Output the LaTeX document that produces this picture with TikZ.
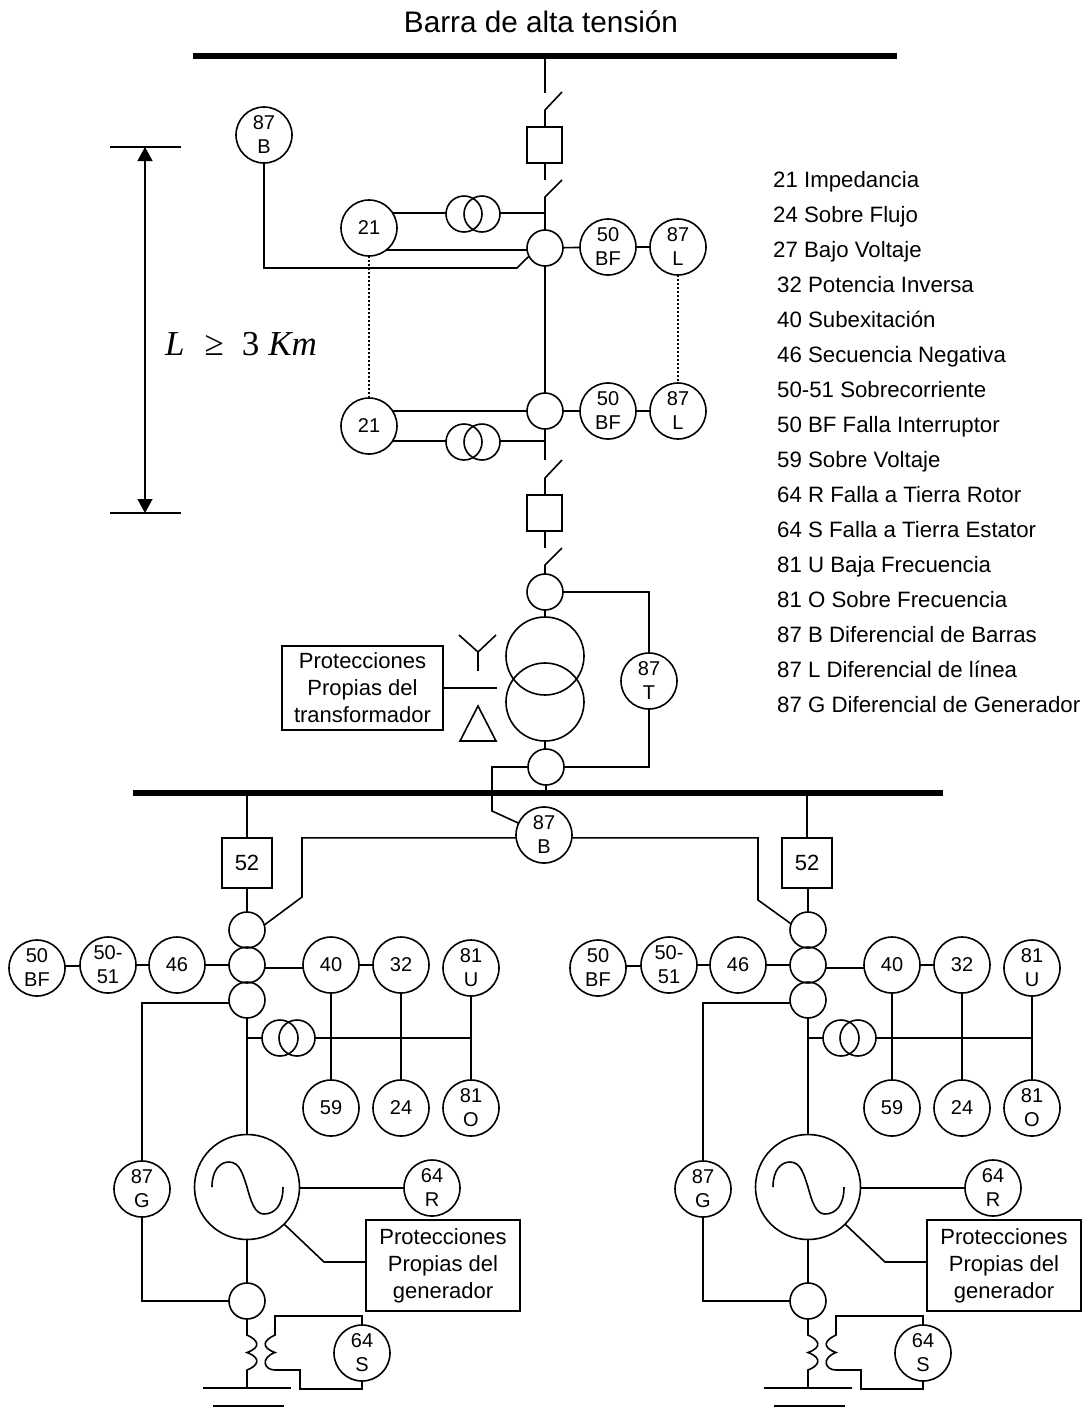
\documentclass[tikz,border=0pt]{standalone}
\usepackage{fontspec}
\setmainfont{Liberation Sans}
\newfontfamily\serifit{Liberation Serif}
\usetikzlibrary{arrows.meta}
\tikzset{
	wire/.style={line width=1.6pt,line join=miter},
	bus/.style={line width=5.5pt},
	relay/.style={circle,draw,line width=1.6pt,outer sep=0pt,minimum size=56pt,inner sep=0pt,align=center,font=\fontsize{20}{24}\selectfont},
	ctcoil/.style={circle,draw,line width=1.6pt,outer sep=0pt,minimum size=36pt,inner sep=0pt},
	vtcoil/.style={circle,draw,line width=1.6pt,outer sep=0pt,minimum size=36pt,inner sep=0pt},
	gencoil/.style={circle,draw,line width=1.6pt,outer sep=0pt,minimum size=78pt,inner sep=0pt},
	machine/.style={circle,draw,line width=1.6pt,outer sep=0pt,minimum size=105pt,inner sep=0pt},
	breaker/.style={rectangle,draw,line width=1.6pt,outer sep=0pt,minimum width=35pt,minimum height=36pt,inner sep=0pt},
	numbox/.style={rectangle,draw,line width=1.6pt,outer sep=0pt,minimum width=50pt,minimum height=50pt,inner sep=0pt,font=\fontsize{22}{24}\selectfont},
	textbox/.style={rectangle,draw,line width=1.6pt,outer sep=0pt,inner sep=0pt,align=center,font=\fontsize{22}{27}\selectfont},
	legend/.style={anchor=base west,inner sep=0pt,font=\fontsize{22.25}{26}\selectfont},
}
\begin{document}
\begin{tikzpicture}[x=1pt,y=-1pt]
	\useasboundingbox (0,0) rectangle (1087,1422);

	\coordinate (BarTa) at (193,56);
	\coordinate (BarTb) at (897,56);
	\coordinate (BarTj) at (545,56);
	\coordinate (BarMa) at (133,793);
	\coordinate (BarMb) at (943,793);
	\coordinate (SwAa) at (545,93);
	\coordinate (SwAb) at (545,110);
	\coordinate (SwAc) at (562,92);
	\coordinate (SwBa) at (545,180);
	\coordinate (SwBb) at (545,197);
	\coordinate (SwBc) at (562,180);
	\coordinate (SwCa) at (545,460);
	\coordinate (SwCb) at (545,478);
	\coordinate (SwCc) at (562,460);
	\coordinate (SwDa) at (545,548);
	\coordinate (SwDb) at (545,565);
	\coordinate (SwDc) at (562,548);
	\coordinate (JnA) at (545,213);
	\coordinate (JnB) at (545,441);
	\coordinate (BendB) at (517,268);
	\coordinate (BendM) at (492,811);
	\coordinate (DimA) at (110,147);
	\coordinate (DimB) at (181,147);
	\coordinate (DimC) at (110,513);
	\coordinate (DimD) at (181,513);
	\coordinate (DimE) at (145,147);
	\coordinate (DimF) at (145,513);
	\coordinate (StarA) at (459,635);
	\coordinate (StarB) at (496,635);
	\coordinate (StarC) at (478,652);
	\coordinate (StarD) at (478,671);
	\coordinate (DeltaA) at (478,706);
	\coordinate (DeltaB) at (460,741);
	\coordinate (DeltaC) at (496,741);
	\coordinate (TrEnd) at (497,688);

	\node[anchor=base] (title) at (541,32) {\fontsize{29.7}{32}\selectfont Barra de alta tensión};
	\node[anchor=base,inner sep=0pt] (length) at (241,355) {\fontsize{35}{38}\selectfont\serifit\textit{L}\hspace{20pt}≥\hspace{18pt}3\hspace{9pt}\textit{Km}};

	\node[legend] (Le21) at (773,187) {21 Impedancia};
	\node[legend] (Le24) at (773,222) {24 Sobre Flujo};
	\node[legend] (Le27) at (773,257) {27 Bajo Voltaje};
	\node[legend] (Le32) at (777,292) {32 Potencia Inversa};
	\node[legend] (Le40) at (777,327) {40 Subexitación};
	\node[legend] (Le46) at (777,362) {46 Secuencia Negativa};
	\node[legend] (Le50) at (777,397) {50-51 Sobrecorriente};
	\node[legend] (LeBF) at (777,432) {50 BF Falla Interruptor};
	\node[legend] (Le59) at (777,467) {59 Sobre Voltaje};
	\node[legend] (LeR) at (777,502) {64 R Falla a Tierra Rotor};
	\node[legend] (LeS) at (777,537) {64 S Falla a Tierra Estator};
	\node[legend] (LeU) at (777,572) {81 U Baja Frecuencia};
	\node[legend] (LeO) at (777,607) {81 O Sobre Frecuencia};
	\node[legend] (LeB) at (777,642) {87 B Diferencial de Barras};
	\node[legend] (LeL) at (777,677) {87 L Diferencial de línea};
	\node[legend] (LeG) at (777,712) {87 G Diferencial de Generador};

	\node[relay] (BarB) at (264,135) {87\\B};
	\node[breaker] (BrkA) at (544.5,145) {};
	\node[breaker] (BrkB) at (544.5,513) {};
	\node[relay] (DisA) at (369,228) {21};
	\node[relay] (DisB) at (369,426) {21};
	\node[vtcoil] (VtAa) at (464,214) {};
	\node[vtcoil] (VtAb) at (482,214) {};
	\node[vtcoil] (VtBa) at (464,442) {};
	\node[vtcoil] (VtBb) at (482,442) {};
	\node[ctcoil] (CtA) at (545,248) {};
	\node[ctcoil] (CtB) at (545,411) {};
	\node[ctcoil] (CtC) at (545,592) {};
	\node[ctcoil] (CtD) at (546,767) {};
	\node[relay] (FalA) at (608,247) {50\\BF};
	\node[relay] (FalB) at (608,411) {50\\BF};
	\node[relay] (DifA) at (678,247) {87\\L};
	\node[relay] (DifB) at (678,411) {87\\L};
	\node[gencoil] (TrA) at (545,656) {};
	\node[gencoil] (TrB) at (545,702) {};
	\node[relay] (DifT) at (649,681) {87\\T};
	\node[relay] (BarM) at (544,835) {87\\B};
	\node[textbox,minimum width=161pt,minimum height=84pt] (ProtT) at (362.5,688) {Protecciones\\Propias del\\transformador};

	\draw[bus] (BarTa) -- (BarTb);
	\draw[bus] (BarMa) -- (BarMb);

	\draw[wire] (BarTj) -- (SwAa);
	\draw[wire] (SwAc) -- (SwAb) -- (SwAb |- BrkA.north);
	\draw[wire] (SwBa |- BrkA.south) -- (SwBa);
	\draw[wire] (SwBc) -- (SwBb) -- (CtA.north);
	\draw[wire] (CtA.south) -- (CtB.north);
	\draw[wire] (CtB.south) -- (SwCa);
	\draw[wire] (SwCc) -- (SwCb) -- (SwCb |- BrkB.north);
	\draw[wire] (SwDa |- BrkB.south) -- (SwDa);
	\draw[wire] (SwDc) -- (SwDb) -- (CtC.north);
	\draw[wire] (CtC) -- (TrA);
	\draw[wire] (TrB.south) -- (CtD.north -| TrB.south);
	\draw[wire] (CtD.south) -- (CtD.south |- BarMa);

	\draw[wire] (DisA.32) -- (DisA.32 -| VtAa.west);
	\draw[wire] (VtAb.east |- JnA) -- (JnA);
	\draw[wire] (DisA.-52) -- (DisA.-52 -| CtA.west);
	\draw[wire] (DisB.32) -- (DisB.32 -| CtB.west);
	\draw[wire] (DisB.-32) -- (DisB.-32 -| VtBa.west);
	\draw[wire] (VtBb.east |- JnB) -- (JnB);
	\draw[wire] (BarB.south) |- (BendB) -- (CtA.207);
	\draw[wire] (CtA) -- (FalA);
	\draw[wire] (FalA) -- (DifA);
	\draw[wire] (CtB) -- (FalB);
	\draw[wire] (FalB) -- (DifB);
	\draw[wire,line width=1.2pt,dash pattern=on 2pt off 2pt] (DisA) -- (DisB);
	\draw[wire,line width=1.2pt,dash pattern=on 2pt off 2pt] (DifA) -- (DifB);

	\draw[wire] (CtC.east) -| (DifT.north);
	\draw[wire] (CtD.east) -| (DifT.south);
	\draw[wire] (CtD.west) -| (BendM) -- (BarM.155);
	\draw[wire] (ProtT.east) -- (TrEnd);
	\draw[wire] (StarA) -- (StarC) -- (StarB);
	\draw[wire] (StarC) -- (StarD);
	\draw[wire] (DeltaA) -- (DeltaB) -- (DeltaC) -- cycle;

	\draw[wire] (DimA) -- (DimB);
	\draw[wire] (DimC) -- (DimD);
	\draw[wire,{Stealth[length=14pt,width=15pt,inset=0pt]}-{Stealth[length=14pt,width=15pt,inset=0pt]}] (DimE) -- (DimF);

	% left generator
	\coordinate (LBusJ) at (247,793);
	\coordinate (LTie) at (302,897);
	\coordinate (LVtJ) at (247,1038);
	\coordinate (LVtR) at (471,1038);
	\coordinate (LBendP) at (324,1262);
	\coordinate (LCoilA) at (247,1335);
	\coordinate (LCoilB) at (247,1352.5);
	\coordinate (LCoilC) at (247,1370);
	\coordinate (LCoilD) at (275,1335);
	\coordinate (LCoilE) at (275,1352.5);
	\coordinate (LCoilF) at (275,1370);
	\coordinate (LLoopA) at (275,1316);
	\coordinate (LLoopB) at (300,1370);
	\coordinate (LLoopC) at (300,1389);
	\coordinate (LGndJ) at (247,1388);
	\coordinate (LGndA) at (203,1388);
	\coordinate (LGndB) at (291,1388);
	\coordinate (LGndC) at (213,1406);
	\coordinate (LGndD) at (284,1406);

	\node[numbox] (LBrk) at (247,863) {52};
	\node[ctcoil] (LCtA) at (247,930) {};
	\node[ctcoil] (LCtB) at (247,965) {};
	\node[ctcoil] (LCtC) at (247,1000) {};
	\node[ctcoil] (LCtD) at (247,1301) {};
	\node[relay] (LFal) at (37,968) {50\\BF};
	\node[relay] (LOvc) at (108,965) {50-\\51};
	\node[relay] (LNeg) at (177,965) {46};
	\node[relay] (LExc) at (331,965) {40};
	\node[relay] (LRev) at (401,965) {32};
	\node[relay] (LUnf) at (471,968) {81\\U};
	\node[relay] (LOvv) at (331,1108) {59};
	\node[relay] (LFlx) at (401,1108) {24};
	\node[relay] (LOvf) at (471,1108) {81\\O};
	\node[vtcoil] (LVtA) at (280,1038) {};
	\node[vtcoil] (LVtB) at (297,1038) {};
	\node[relay] (LDif) at (142,1189) {87\\G};
	\node[relay] (LRot) at (432,1188) {64\\R};
	\node[relay] (LSta) at (362,1353) {64\\S};
	\node[machine] (LGen) at (247,1187) {};
	\node[textbox,minimum width=154pt,minimum height=91pt] (LProt) at (443,1265.5) {Protecciones\\Propias del\\generador};

	\draw[wire] (LBusJ) -- (LBrk.north);
	\draw[wire] (LBrk.south) -- (LCtA.north);
	\draw[wire] (LCtC.south) -- (LGen.north);
	\draw[wire] (LGen.south) -- (LCtD.north);
	\draw[wire] (BarM.186) -| (LTie) -- (LCtA.16);
	\draw[wire] (LFal.4) -- (LFal.4 -| LOvc.west);
	\draw[wire] (LOvc) -- (LNeg);
	\draw[wire] (LNeg) -- (LCtB);
	\draw[wire] (LCtB.-10) -- (LCtB.-10 -| LExc.west);
	\draw[wire] (LExc) -- (LRev);
	\draw[wire] (LExc) -- (LOvv);
	\draw[wire] (LRev) -- (LFlx);
	\draw[wire] (LUnf) -- (LOvf);
	\draw[wire] (LVtJ) -- (LVtA.west);
	\draw[wire] (LVtB.east) -- (LVtR);
	\draw[wire] (LCtC.190) -| (LDif.north);
	\draw[wire] (LDif.south) |- (LCtD.west);
	\draw[wire] (LGen.east |- LRot) -- (LRot.west);
	\draw[wire] (LProt.west |- LBendP) -- (LBendP) -- (LGen.-45);
	\draw[wire] (LCtD.south) -- (LCoilA) .. controls (258,1340) and (262,1347) .. (LCoilB) .. controls (262,1358) and (258,1366) .. (LCoilC) -- (LGndJ);
	\draw[wire] (LSta.north) |- (LLoopA) -- (LCoilD) .. controls (264,1340) and (260,1347) .. (LCoilE) .. controls (260,1358) and (264,1370) .. (LCoilF) -- (LLoopB) -- (LLoopC) -| (LSta.south);
	\draw[wire] (LGndA) -- (LGndB);
	\draw[wire] (LGndC) -- (LGndD);
	\draw[wire] (212,1187) .. controls (212,1170) and (220,1162) .. (229,1162) .. controls (240,1162) and (243,1175) .. (247,1187) .. controls (251,1202) and (255,1214) .. (264,1214) .. controls (275,1214) and (283,1205) .. (283,1187);

	% right generator
	\coordinate (RBusJ) at (807,793);
	\coordinate (RTie) at (758,900);
	\coordinate (RVtJ) at (808,1038);
	\coordinate (RVtR) at (1032,1038);
	\coordinate (RBendP) at (885,1262);
	\coordinate (RCoilA) at (808,1335);
	\coordinate (RCoilB) at (808,1352.5);
	\coordinate (RCoilC) at (808,1370);
	\coordinate (RCoilD) at (836,1335);
	\coordinate (RCoilE) at (836,1352.5);
	\coordinate (RCoilF) at (836,1370);
	\coordinate (RLoopA) at (836,1316);
	\coordinate (RLoopB) at (861,1370);
	\coordinate (RLoopC) at (861,1389);
	\coordinate (RGndJ) at (808,1388);
	\coordinate (RGndA) at (764,1388);
	\coordinate (RGndB) at (852,1388);
	\coordinate (RGndC) at (774,1406);
	\coordinate (RGndD) at (845,1406);

	\node[numbox] (RBrk) at (807,863) {52};
	\node[ctcoil] (RCtA) at (808,930) {};
	\node[ctcoil] (RCtB) at (808,965) {};
	\node[ctcoil] (RCtC) at (808,1000) {};
	\node[ctcoil] (RCtD) at (808,1301) {};
	\node[relay] (RFal) at (598,968) {50\\BF};
	\node[relay] (ROvc) at (669,965) {50-\\51};
	\node[relay] (RNeg) at (738,965) {46};
	\node[relay] (RExc) at (892,965) {40};
	\node[relay] (RRev) at (962,965) {32};
	\node[relay] (RUnf) at (1032,968) {81\\U};
	\node[relay] (ROvv) at (892,1108) {59};
	\node[relay] (RFlx) at (962,1108) {24};
	\node[relay] (ROvf) at (1032,1108) {81\\O};
	\node[vtcoil] (RVtA) at (841,1038) {};
	\node[vtcoil] (RVtB) at (858,1038) {};
	\node[relay] (RDif) at (703,1189) {87\\G};
	\node[relay] (RRot) at (993,1188) {64\\R};
	\node[relay] (RSta) at (923,1353) {64\\S};
	\node[machine] (RGen) at (808,1187) {};
	\node[textbox,minimum width=154pt,minimum height=91pt] (RProt) at (1004,1265.5) {Protecciones\\Propias del\\generador};

	\draw[wire] (RBusJ) -- (RBrk.north);
	\draw[wire] (RBrk.south -| RCtA) -- (RCtA.north);
	\draw[wire] (RCtC.south) -- (RGen.north);
	\draw[wire] (RGen.south) -- (RCtD.north);
	\draw[wire] (BarM.-6) -| (RTie) -- (RCtA.160);
	\draw[wire] (RFal.4) -- (RFal.4 -| ROvc.west);
	\draw[wire] (ROvc) -- (RNeg);
	\draw[wire] (RNeg) -- (RCtB);
	\draw[wire] (RCtB.-10) -- (RCtB.-10 -| RExc.west);
	\draw[wire] (RExc) -- (RRev);
	\draw[wire] (RExc) -- (ROvv);
	\draw[wire] (RRev) -- (RFlx);
	\draw[wire] (RUnf) -- (ROvf);
	\draw[wire] (RVtJ) -- (RVtA.west);
	\draw[wire] (RVtB.east) -- (RVtR);
	\draw[wire] (RCtC.190) -| (RDif.north);
	\draw[wire] (RDif.south) |- (RCtD.west);
	\draw[wire] (RGen.east |- RRot) -- (RRot.west);
	\draw[wire] (RProt.west |- RBendP) -- (RBendP) -- (RGen.-45);
	\draw[wire] (RCtD.south) -- (RCoilA) .. controls (819,1340) and (823,1347) .. (RCoilB) .. controls (823,1358) and (819,1366) .. (RCoilC) -- (RGndJ);
	\draw[wire] (RSta.north) |- (RLoopA) -- (RCoilD) .. controls (825,1340) and (821,1347) .. (RCoilE) .. controls (821,1358) and (825,1370) .. (RCoilF) -- (RLoopB) -- (RLoopC) -| (RSta.south);
	\draw[wire] (RGndA) -- (RGndB);
	\draw[wire] (RGndC) -- (RGndD);
	\draw[wire] (773,1187) .. controls (773,1170) and (781,1162) .. (790,1162) .. controls (801,1162) and (804,1175) .. (808,1187) .. controls (812,1202) and (816,1214) .. (825,1214) .. controls (836,1214) and (844,1205) .. (844,1187);
\end{tikzpicture}
\end{document}
